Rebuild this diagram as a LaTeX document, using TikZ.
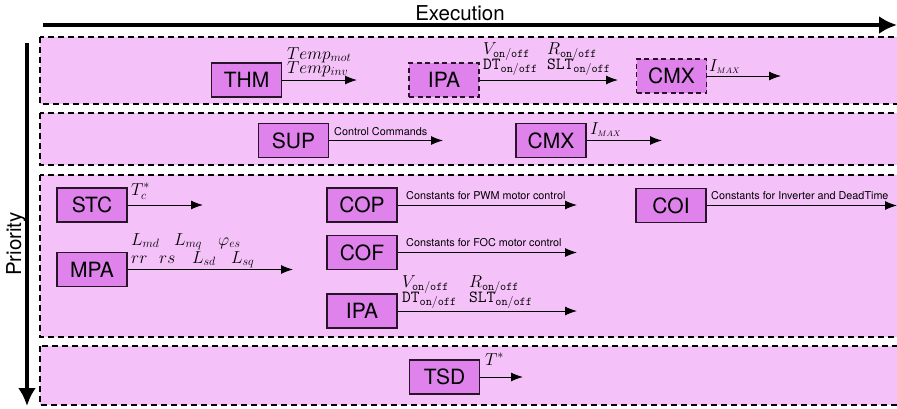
\documentclass[tikz,border=0pt]{standalone}
\usepackage{fontspec}
\setsansfont{TeX Gyre Heros}
\usetikzlibrary{arrows.meta}
\definecolor{bandfill}{RGB}{244,193,248}
\definecolor{nodefill}{RGB}{223,130,236}
\definecolor{blkline}{RGB}{40,20,40}
\tikzset{
  band/.style={draw=black, fill=bandfill, line width=1.1pt, dash pattern=on 6pt off 4pt},
  blk/.style={draw=blkline, fill=nodefill, line width=1.1pt, minimum width=70pt, minimum height=34pt, inner sep=0pt, font=\fontsize{21}{23}\selectfont\sffamily},
  dblk/.style={blk, dash pattern=on 5pt off 3.5pt},
  flow/.style={-{Latex[length=12pt,width=9pt]}, line width=1pt},
  axis/.style={-{Latex[length=18pt,width=18pt]}, line width=4pt},
  tinylbl/.style={font=\fontsize{10.8}{12}\selectfont\sffamily, inner sep=0pt, anchor=base west},
  mlbl/.style={font=\fontsize{17}{19}\selectfont, inner sep=0pt, anchor=base west},
  axlbl/.style={font=\fontsize{20.5}{22}\selectfont\sffamily, inner sep=0pt}
}
\begin{document}
\begin{tikzpicture}[x=1pt,y=-1pt]
\clip (0,0) rectangle (897,408);
\fill[white] (0,0) rectangle (897,408);
% bands
\draw[band] (40,37) rectangle (920,104);
\draw[band] (40,113) rectangle (920,165);
\draw[band] (40,175) rectangle (920,337);
\draw[band] (40,346) rectangle (920,405);
% axes
\coordinate (ex0) at (43,25);
\coordinate (ex1) at (897,25);
\draw[axis] (ex0) -- (ex1);
\node[axlbl] (exlbl) at (460,13) {Execution};
\coordinate (pr0) at (27,43);
\coordinate (pr1) at (27,406);
\draw[axis] (pr0) -- (pr1);
\node[axlbl, rotate=90] (prlbl) at (16,244) {Priority};
% band 1
\node[blk] (thm) at (246.5,80) {THM};
\coordinate (thmE) at (357,80);
\draw[flow] (thm.east) -- (thmE);
\node[mlbl] (tmot) at (287,59) {$Temp_{mot}$};
\node[mlbl] (tinv) at (287,73) {$Temp_{inv}$};
\node[dblk] (ipa1) at (444,80) {IPA};
\coordinate (ipa1E) at (618,80);
\draw[flow] (ipa1.east) -- (ipa1E);
\node[mlbl] (v1) at (483,54) {$V_{\mathtt{on/off}}$};
\node[mlbl] (dt1) at (483,69) {$\mathtt{DT}_{\mathtt{on/off}}$};
\node[mlbl] (r1) at (547,54) {$R_{\mathtt{on/off}}$};
\node[mlbl] (slt1) at (547,69) {$\mathtt{SLT}_{\mathtt{on/off}}$};
\node[dblk] (cmx1) at (671.5,76) {CMX};
\coordinate (cmx1E) at (781,76);
\draw[flow] (cmx1.east) -- (cmx1E);
\node[mlbl] (imax1) at (709,71) {$I_{\scriptscriptstyle MAX}$};
% band 2
\node[blk] (sup) at (293.5,140.5) {SUP};
\coordinate (supE) at (443,140.5);
\draw[flow] (sup.east) -- (supE);
\node[tinylbl] (cc) at (334,135) {Control Commands};
\node[blk] (cmx2) at (551,140.5) {CMX};
\coordinate (cmx2E) at (662,140.5);
\draw[flow] (cmx2.east) -- (cmx2E);
\node[mlbl] (imax2) at (590,134) {$I_{\scriptscriptstyle MAX}$};
% band 3
\node[blk] (stc) at (92,205) {STC};
\coordinate (stcE) at (203,205);
\draw[flow] (stc.east) -- (stcE);
\node[mlbl] (tc) at (131,195) {$T_c^{*}$};
\node[blk] (mpa) at (92,269.5) {MPA};
\coordinate (mpaE) at (293,269.5);
\draw[flow] (mpa.east) -- (mpaE);
\node[mlbl] (lmd) at (131,245) {$L_{md}$};
\node[mlbl] (lmq) at (174,245) {$L_{mq}$};
\node[mlbl] (phi) at (218,245) {$\varphi_{es}$};
\node[mlbl] (rr) at (131,263) {$rr$};
\node[mlbl] (rs) at (159,263) {$rs$};
\node[mlbl] (lsd) at (192,263) {$L_{sd}$};
\node[mlbl] (lsq) at (231,263) {$L_{sq}$};
\node[blk] (cop) at (362,205) {COP};
\coordinate (copE) at (577,205);
\draw[flow] (cop.east) -- (copE);
\node[tinylbl] (copl) at (406,199) {Constants for PWM motor control};
\node[blk] (cof) at (362,252.5) {COF};
\coordinate (cofE) at (577,252.5);
\draw[flow] (cof.east) -- (cofE);
\node[tinylbl] (cofl) at (406,246.5) {Constants for FOC motor control};
\node[blk] (ipa3) at (362,311) {IPA};
\coordinate (ipa3E) at (577,311);
\draw[flow] (ipa3.east) -- (ipa3E);
\node[mlbl] (v3) at (402,287) {$V_{\mathtt{on/off}}$};
\node[mlbl] (dt3) at (402,302) {$\mathtt{DT}_{\mathtt{on/off}}$};
\node[mlbl] (r3) at (469,287) {$R_{\mathtt{on/off}}$};
\node[mlbl] (slt3) at (469,302) {$\mathtt{SLT}_{\mathtt{on/off}}$};
\node[blk] (coi) at (671,205.5) {COI};
\coordinate (coiE) at (897,205.5);
\draw[flow] (coi.east) -- (coiE);
\node[tinylbl] (coil) at (711,199.5) {Constants for Inverter and DeadTime};
% band 4
\node[blk] (tsd) at (444.5,377) {TSD};
\coordinate (tsdE) at (523,377);
\draw[flow] (tsd.east) -- (tsdE);
\node[mlbl] (tstar) at (485,365) {$T^{*}$};
\end{tikzpicture}
\end{document}
